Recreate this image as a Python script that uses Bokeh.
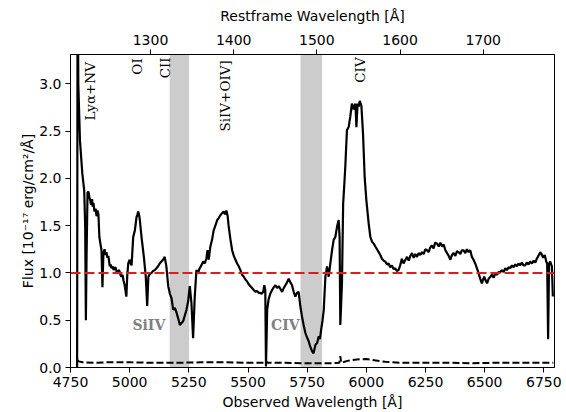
import math
from bokeh.plotting import figure
from bokeh.models import (Range1d, LinearAxis, FixedTicker, PrintfTickFormatter,
                          BoxAnnotation, Span, ColumnDataSource)
from bokeh.core.properties import value
from bokeh.embed import file_html
from bokeh.resources import INLINE

# ---------------- data ----------------
obs_wave = [4778, 4780, 4783, 4790, 4800, 4808, 4812, 4815, 4818, 4822,
            4826, 4830, 4834, 4837, 4841, 4844, 4847, 4851, 4856, 4860,
            4864, 4868, 4872, 4877, 4881, 4885, 4889, 4894, 4898, 4902,
            4906, 4910, 4916, 4920, 4923, 4928, 4932, 4936, 4940, 4945,
            4949, 4953, 4957, 4961, 4965, 4970, 4974, 4979, 4986, 4990,
            4994, 5000, 5004, 5008, 5015, 5022, 5029, 5033, 5036, 5040,
            5043, 5050, 5060, 5068, 5074, 5079, 5085, 5092, 5099, 5106,
            5113, 5120, 5127, 5134, 5141, 5148, 5155, 5163, 5170, 5177,
            5184, 5191, 5198, 5205, 5212, 5219, 5226, 5233, 5240, 5247,
            5254, 5261, 5268, 5275, 5282, 5289, 5296, 5303, 5310, 5317,
            5324, 5329, 5334, 5341, 5348, 5355, 5362, 5370, 5376, 5383,
            5390, 5397, 5403, 5409, 5414, 5418, 5426, 5433, 5440, 5447,
            5454, 5461, 5468, 5475, 5482, 5489, 5496, 5503, 5510, 5517,
            5524, 5531, 5538, 5545, 5552, 5558, 5564, 5569, 5573, 5576,
            5581, 5587, 5594, 5602, 5609, 5616, 5623, 5630, 5637, 5644,
            5651, 5658, 5665, 5672, 5679, 5686, 5693, 5700, 5707, 5714,
            5721, 5728, 5735, 5742, 5749, 5756, 5763, 5771, 5777, 5785,
            5792, 5799, 5804, 5809, 5815, 5820, 5827, 5834, 5841, 5848,
            5855, 5862, 5869, 5875, 5879, 5883, 5887, 5890, 5897, 5902,
            5907, 5911, 5918, 5925, 5932, 5939, 5946, 5950, 5954, 5958,
            5963, 5968, 5972, 5979, 5986, 5993, 6000, 6010, 6017, 6024,
            6031, 6038, 6045, 6052, 6059, 6066, 6073, 6080, 6087, 6094,
            6101, 6108, 6115, 6122, 6129, 6136, 6143, 6150, 6157, 6165,
            6172, 6179, 6186, 6193, 6200, 6207, 6214, 6221, 6228, 6235,
            6242, 6249, 6256, 6263, 6270, 6277, 6284, 6291, 6299, 6306,
            6313, 6320, 6327, 6334, 6341, 6348, 6355, 6362, 6369, 6376,
            6383, 6390, 6397, 6404, 6411, 6418, 6425, 6432, 6439, 6446,
            6453, 6460, 6467, 6474, 6481, 6488, 6493, 6498, 6504, 6510,
            6517, 6524, 6531, 6538, 6545, 6552, 6559, 6566, 6573, 6580,
            6587, 6594, 6601, 6608, 6615, 6622, 6629, 6636, 6643, 6650,
            6657, 6664, 6671, 6678, 6685, 6692, 6700, 6707, 6714, 6720,
            6727, 6735, 6740, 6747, 6754, 6760, 6764, 6768, 6772, 6777,
            6781, 6784, 6788]
flux = [0.00, 4.50, 3.00, 2.40, 2.05, 1.87, 1.50, 0.50, 1.20, 1.85,
        1.86, 1.80, 1.76, 1.72, 1.78, 1.70, 1.74, 1.65, 1.68, 1.60,
        1.66, 1.62, 1.38, 1.30, 1.24, 0.85, 1.21, 1.25, 1.19, 1.22,
        1.16, 1.18, 1.07, 1.09, 1.05, 1.07, 1.03, 1.05, 1.06, 1.01,
        1.00, 1.03, 1.02, 0.98, 0.96, 0.98, 0.92, 0.87, 0.75, 0.98,
        1.10, 1.14, 1.10, 1.08, 1.38, 1.45, 1.59, 1.62, 1.65, 1.61,
        1.56, 1.38, 1.17, 0.96, 0.65, 0.96, 0.99, 1.00, 1.02, 1.03,
        1.05, 1.07, 1.10, 1.12, 1.14, 1.17, 1.07, 0.86, 0.78, 0.73,
        0.61, 0.63, 0.58, 0.52, 0.45, 0.47, 0.49, 0.55, 0.61, 0.70,
        0.86, 0.68, 0.31, 0.75, 1.03, 1.00, 1.05, 1.08, 1.12, 1.10,
        1.15, 1.24, 1.14, 1.28, 1.35, 1.45, 1.50, 1.56, 1.58, 1.61,
        1.63, 1.65, 1.62, 1.66, 1.60, 1.50, 1.35, 1.24, 1.18, 1.14,
        1.10, 1.07, 1.03, 0.98, 0.96, 0.93, 0.91, 0.88, 0.86, 0.84,
        0.82, 0.80, 0.81, 0.79, 0.79, 0.78, 0.80, 0.87, 0.82, 0.01,
        0.61, 0.72, 0.78, 0.82, 0.85, 0.87, 0.84, 0.86, 0.83, 0.80,
        0.84, 0.87, 0.90, 0.94, 0.90, 0.87, 0.80, 0.75, 0.79, 0.80,
        0.65, 0.54, 0.45, 0.37, 0.32, 0.28, 0.22, 0.17, 0.15, 0.24,
        0.26, 0.33, 0.30, 0.40, 0.50, 0.61, 0.96, 1.07, 0.96, 1.10,
        1.24, 1.35, 1.38, 1.47, 1.52, 1.56, 1.38, 0.45, 0.89, 1.73,
        1.94, 2.12, 2.51, 2.54, 2.65, 2.79, 2.73, 2.77, 2.79, 2.54,
        2.79, 2.76, 2.82, 2.77, 2.47, 2.01, 1.77, 1.52, 1.38, 1.33,
        1.31, 1.28, 1.25, 1.22, 1.19, 1.15, 1.13, 1.12, 1.09, 1.10,
        1.06, 1.08, 1.04, 1.05, 1.02, 1.03, 1.08, 1.15, 1.10, 1.14,
        1.17, 1.13, 1.18, 1.21, 1.16, 1.20, 1.17, 1.21, 1.19, 1.22,
        1.20, 1.25, 1.24, 1.22, 1.27, 1.29, 1.26, 1.32, 1.31, 1.28,
        1.32, 1.28, 1.30, 1.24, 1.21, 1.18, 1.14, 1.19, 1.21, 1.18,
        1.23, 1.22, 1.20, 1.24, 1.24, 1.21, 1.25, 1.22, 1.24, 1.17,
        1.14, 1.10, 1.05, 1.00, 0.94, 0.89, 0.93, 0.96, 0.92, 0.89,
        0.94, 0.96, 0.98, 0.95, 1.00, 0.98, 1.01, 1.01, 1.03, 1.01,
        1.05, 1.03, 1.06, 1.05, 1.08, 1.06, 1.09, 1.07, 1.10, 1.08,
        1.11, 1.08, 1.08, 1.11, 1.09, 1.12, 1.10, 1.13, 1.11, 1.15,
        1.18, 1.22, 1.20, 1.16, 1.19, 1.12, 1.10, 0.30, 1.10, 1.12,
        1.09, 1.07, 0.75]

err_wave = [4778, 4785, 4800, 4850, 4900, 5000, 5100, 5200, 5300, 5400,
            5500, 5570, 5576, 5582, 5650, 5750, 5850, 5886, 5890, 5894,
            5920, 5960, 6000, 6040, 6080, 6150, 6250, 6350, 6450, 6550,
            6650, 6750, 6790]
err_flux = [0.08, 0.065, 0.055, 0.05, 0.055, 0.055, 0.05, 0.05, 0.055, 0.055,
            0.05, 0.05, 0.07, 0.05, 0.05, 0.045, 0.045, 0.05, 0.12, 0.05,
            0.07, 0.085, 0.09, 0.075, 0.06, 0.05, 0.05, 0.05, 0.045, 0.05,
            0.05, 0.05, 0.05]

band_left = [5169, 5722]
band_right = [5251, 5813]

line_names = ["Ly\u03b1+NV", "OI", "CII", "SiIV+OIV]", "CIV"]
line_wave = [4834, 5029, 5148, 5402, 5975]
line_top = [3.23, 3.27, 3.28, 3.25, 3.28]

abs_names = ["SiIV", "CIV"]
abs_wave = [5081, 5658]
abs_flux = [0.445, 0.445]

x_ticks = [4750, 5000, 5250, 5500, 5750, 6000, 6250, 6500, 6750]
y_ticks = [0.0, 0.5, 1.0, 1.5, 2.0, 2.5, 3.0]
rest_ticks = [1300, 1400, 1500, 1600, 1700]
continuum_level = 1.0

# ---------------- figure ----------------
p = figure(width=566, height=412, output_backend="svg", toolbar_location=None,
           x_range=Range1d(4750, 6795), y_range=Range1d(0, 3.31),
           min_border_left=70, min_border_right=12, min_border_top=54,
           min_border_bottom=44)
p.extra_x_ranges = {"rest": Range1d(1203.8, 1785.7)}
p.xgrid.visible = False
p.ygrid.visible = False
p.outline_line_color = "black"
p.outline_line_width = 1
p.background_fill_color = "white"
p.border_fill_color = "white"

bottom = p.below[0]
left = p.left[0]

top = LinearAxis(x_range_name="rest", axis_label="Restframe Wavelength [\u00c5]",
                 ticker=FixedTicker(ticks=rest_ticks))
p.add_layout(top, "above")

bottom.ticker = FixedTicker(ticks=x_ticks)
left.ticker = FixedTicker(ticks=y_ticks)
left.formatter = PrintfTickFormatter(format="%.1f")
bottom.axis_label = "Observed Wavelength [\u00c5]"
left.axis_label = "Flux [10\u207b\u00b9\u2077 erg/cm\u00b2/\u00c5]"

for ax in [bottom, left, top]:
    ax.major_tick_out = 5
    ax.major_tick_in = 0
    ax.minor_tick_out = 0
    ax.minor_tick_in = 0
    ax.major_tick_line_color = "black"
    ax.axis_line_color = "black"
    ax.major_label_text_font = "DejaVu Sans"
    ax.major_label_text_font_size = "14px"
    ax.major_label_text_color = "black"
    ax.axis_label_text_font = "DejaVu Sans"
    ax.axis_label_text_font_size = "14px"
    ax.axis_label_text_font_style = "normal"
    ax.axis_label_text_color = "black"
    ax.major_label_standoff = 4
    ax.axis_label_standoff = 4
left.axis_label_standoff = 0
top.axis_label_standoff = 8
top.major_label_standoff = 5

for l, r in zip(band_left, band_right):
    p.add_layout(BoxAnnotation(left=l, right=r, fill_color="#808080",
                               fill_alpha=0.4, line_color=None, level="underlay"))

p.add_layout(Span(location=continuum_level, dimension="width", line_color="#dd1c1c",
                  line_dash="10 4", line_width=2))

p.line(err_wave, err_flux, line_color="black", line_width=2, line_dash="7 3")
p.line(obs_wave, flux, line_color="black", line_width=2.2)

src = ColumnDataSource(dict(x=line_wave, y=line_top, t=line_names))
p.text(x="x", y="y", text="t", source=src, angle=math.pi / 2,
       text_align="right", text_baseline="middle",
       text_font=value("DejaVu Serif"), text_font_size="13.5px", text_color="black")

src2 = ColumnDataSource(dict(x=abs_wave, y=abs_flux, t=abs_names))
p.text(x="x", y="y", text="t", source=src2, text_align="center",
       text_baseline="middle", text_font=value("DejaVu Serif"),
       text_font_size="14px", text_font_style="bold", text_color="#808080")

open("out.html", "w").write(file_html(p, INLINE))
